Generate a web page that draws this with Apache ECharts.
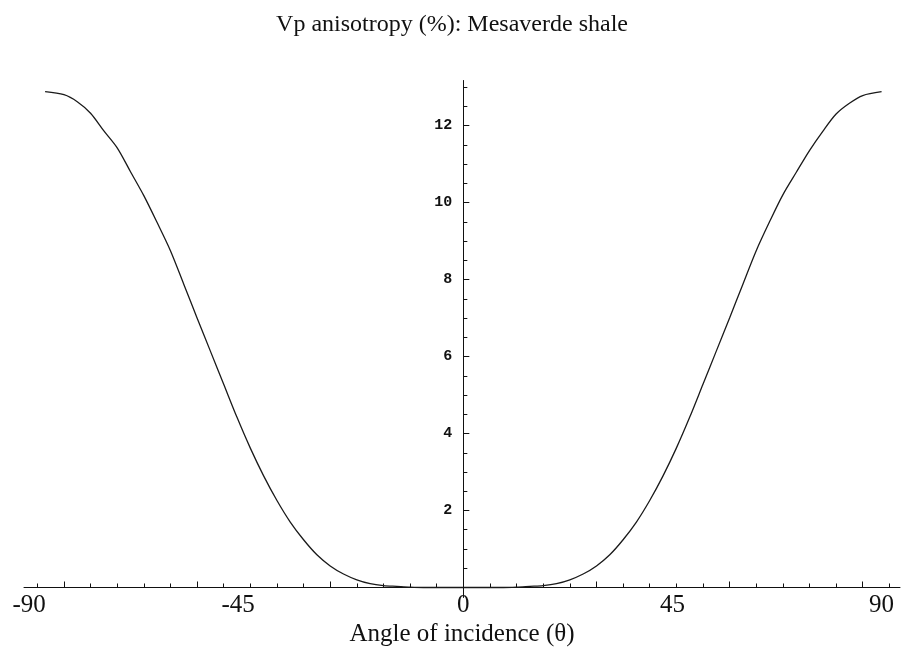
<!DOCTYPE html>
<html>
<head>
<meta charset="utf-8">
<script src="https://cdn.jsdelivr.net/npm/echarts@6/dist/echarts.min.js"></script>
<style>
  html, body { margin: 0; padding: 0; background: #fff; }
  #chart { width: 904px; height: 654px; }
</style>
</head>
<body>
<div id="chart"></div>
<script>
// Angle of incidence in radians, and P-wave anisotropy in percent
const anglesRight = [0, 0.05, 0.10, 0.15, 0.20, 0.25, 0.30, 0.35, 0.40, 0.45, 0.50, 0.55, 0.60, 0.65, 0.70, 0.75, 0.80, 0.85, 0.90, 0.95, 1.00, 1.05, 1.10, 1.15, 1.20, 1.25, 1.30, 1.35, 1.40, 1.45, 1.50, 1.5708];
const anisoRight = [0, 0, 0, 0, 0.01, 0.03, 0.05, 0.10, 0.20, 0.35, 0.56, 0.85, 1.24, 1.70, 2.26, 2.90, 3.62, 4.42, 5.28, 6.14, 7.00, 7.88, 8.75, 9.50, 10.20, 10.78, 11.35, 11.85, 12.30, 12.58, 12.78, 12.88];
const anglesLeft = [-1.5708, -1.50, -1.45, -1.40, -1.35, -1.30, -1.25, -1.20, -1.15, -1.10, -1.05, -1.00, -0.95, -0.90, -0.85, -0.80, -0.75, -0.70, -0.65, -0.60, -0.55, -0.50, -0.45, -0.40, -0.35, -0.30, -0.25, -0.20, -0.15, -0.10, -0.05, 0];
const anisoLeft = [12.88, 12.80, 12.62, 12.32, 11.86, 11.42, 10.80, 10.18, 9.48, 8.75, 7.88, 7.00, 6.14, 5.28, 4.42, 3.62, 2.90, 2.26, 1.70, 1.24, 0.85, 0.56, 0.35, 0.20, 0.10, 0.05, 0.03, 0.01, 0, 0, 0, 0];

// Axis ticks (radians on x, percent on y)
const xMinorTicks = [-1.6, -1.5, -1.4, -1.3, -1.2, -1.1, -1.0, -0.9, -0.8, -0.7, -0.6, -0.5, -0.4, -0.3, -0.2, -0.1, 0, 0.1, 0.2, 0.3, 0.4, 0.5, 0.6, 0.7, 0.8, 0.9, 1.0, 1.1, 1.2, 1.3, 1.4, 1.5, 1.6];
const xMajorTicks = [-1.5, -1.0, -0.5, 0.5, 1.0, 1.5];
const xLabelValues = [-Math.PI / 2, -Math.PI / 4, 0, Math.PI / 4, Math.PI / 2];
const xLabelTexts = ['-90', '-45', '0', '45', '90'];
const yMinorTicks = [0.5, 1, 1.5, 2, 2.5, 3, 3.5, 4, 4.5, 5, 5.5, 6, 6.5, 7, 7.5, 8, 8.5, 9, 9.5, 10, 10.5, 11, 11.5, 12, 12.5, 13];
const yMajorTicks = [2, 4, 6, 8, 10, 12];
const yLabelValues = [2, 4, 6, 8, 10, 12];

const titleText = 'Vp anisotropy (%): Mesaverde shale';
const xTitle = 'Angle of incidence (\u03b8)';

const X_MIN = -1.65, X_MAX = 1.64;
const Y_MIN = -0.26, Y_MAX = 13.17;
const INK = '#111';
const SERIF = '"Liberation Serif", "DejaVu Serif", serif';

// Plot box; the axes cross at the origin, placed inside it by offsets
const GRID = { left: 24, right: 4, top: 80.5, bottom: 56.5 };
const plotW = 904 - GRID.left - GRID.right;
const plotH = 654 - GRID.top - GRID.bottom;
const yAxisShift = -plotW * (0 - X_MIN) / (X_MAX - X_MIN);   // move y axis right to x = 0
const xAxisShift = -plotH * (0 - Y_MIN) / (Y_MAX - Y_MIN);   // move x axis up to y = 0

function pair(xs, ys) { return xs.map((x, i) => [x, ys[i]]); }

function xLabel(v) {
  const i = xLabelValues.findIndex(t => Math.abs(t - v) < 1e-6);
  if (i < 0) return '';
  const s = xLabelTexts[i];
  return v < 0 ? '{neg|' + s + '}' : '{pos|' + s + '}';
}

function gridOf() {
  return { left: GRID.left, right: GRID.right, top: GRID.top, bottom: GRID.bottom, outerBoundsMode: 'none', containLabel: false };
}

const chart = echarts.init(document.getElementById('chart'), null, { renderer: 'canvas' });
chart.setOption({
  backgroundColor: '#fff',
  animation: false,
  title: {
    text: titleText,
    left: 'center',
    top: 8,
    textStyle: { fontFamily: SERIF, fontSize: 24, fontWeight: 'normal', color: INK }
  },
  grid: [gridOf(), gridOf()],
  xAxis: [
    {
      type: 'value', gridIndex: 0, min: X_MIN, max: X_MAX,
      position: 'bottom', offset: xAxisShift,
      axisLine: { onZero: false, lineStyle: { color: INK, width: 1 } },
      axisTick: { show: true, inside: true, length: 4, customValues: xMinorTicks, lineStyle: { color: INK, width: 1 } },
      axisLabel: {
        customValues: xLabelValues, margin: 5, formatter: xLabel,
        rich: {
          pos: { fontFamily: SERIF, fontSize: 25, color: INK },
          neg: { fontFamily: SERIF, fontSize: 25, color: INK, padding: [0, 32, 0, 0] }
        }
      },
      splitLine: { show: false },
      name: xTitle, nameLocation: 'middle', nameGap: 34,
      nameTextStyle: { fontFamily: SERIF, fontSize: 25, color: INK }
    },
    {
      type: 'value', gridIndex: 1, min: X_MIN, max: X_MAX,
      position: 'bottom', offset: xAxisShift,
      axisLine: { show: false, onZero: false },
      axisTick: { show: true, inside: true, length: 6, customValues: xMajorTicks, lineStyle: { color: INK, width: 1 } },
      axisLabel: { show: false },
      splitLine: { show: false }
    }
  ],
  yAxis: [
    {
      type: 'value', gridIndex: 0, min: Y_MIN, max: Y_MAX,
      position: 'left', offset: yAxisShift,
      axisLine: { onZero: false, lineStyle: { color: INK, width: 1 } },
      axisTick: { show: true, inside: true, length: 4, customValues: yMinorTicks, lineStyle: { color: INK, width: 1 } },
      axisLabel: {
        customValues: yLabelValues, margin: 11,
        fontFamily: '"Liberation Mono", "DejaVu Sans Mono", monospace',
        fontSize: 15, fontWeight: 'bold', color: INK
      },
      splitLine: { show: false }
    },
    {
      type: 'value', gridIndex: 1, min: Y_MIN, max: Y_MAX,
      position: 'left', offset: yAxisShift,
      axisLine: { show: false, onZero: false },
      axisTick: { show: true, inside: true, length: 6, customValues: yMajorTicks, lineStyle: { color: INK, width: 1 } },
      axisLabel: { show: false },
      splitLine: { show: false }
    }
  ],
  series: [
    {
      type: 'line', xAxisIndex: 0, yAxisIndex: 0,
      data: pair(anglesLeft, anisoLeft),
      showSymbol: false, smooth: 0.3,
      lineStyle: { color: '#1a1a1a', width: 1.3 }
    },
    {
      type: 'line', xAxisIndex: 0, yAxisIndex: 0,
      data: pair(anglesRight, anisoRight),
      showSymbol: false, smooth: 0.3,
      lineStyle: { color: '#1a1a1a', width: 1.3 }
    }
  ]
});
</script>
</body>
</html>
